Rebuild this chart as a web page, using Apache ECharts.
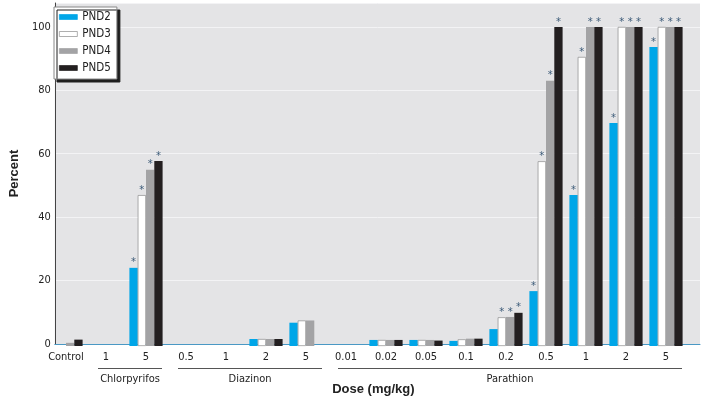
<!DOCTYPE html>
<html>
<head>
<meta charset="utf-8">
<script src="https://cdn.jsdelivr.net/npm/echarts@6/dist/echarts.min.js"></script>
<style>
  html, body { margin: 0; padding: 0; background: #fff; }
  #main { width: 704px; height: 401px; }
</style>
</head>
<body>
<div id="main"></div>
<script>
// dose labels along the x axis
var categories = ['Control', '1', '5', '0.5', '1', '2', '5', '0.01', '0.02', '0.05', '0.1', '0.2', '0.5', '1', '2', '5'];
var seriesNames = ['PND2', 'PND3', 'PND4', 'PND5'];
var pnd2 = [0, 0, 24.5, 0, 0, 2.2, 7.3, 0, 1.9, 1.9, 1.6, 5.3, 17.2, 47.3, 69.9, 93.7];
var pnd3 = [0, 0, 47.3, 0, 0, 2.2, 8.0, 0, 1.9, 1.9, 2.1, 9.0, 57.9, 90.6, 100, 100];
var pnd4 = [1.0, 0, 55.2, 0, 0, 2.2, 8.0, 0, 1.9, 1.9, 2.3, 9.1, 83.1, 100, 100, 100];
var pnd5 = [2.0, 0, 58.0, 0, 0, 2.2, 0, 0, 1.9, 1.7, 2.3, 10.4, 100, 100, 100, 100];
// category indexes that get an asterisk
var sig2 = [2, 12, 13, 14, 15];
var sig3 = [2, 11, 12, 13, 14, 15];
var sig4 = [2, 11, 12, 13, 14, 15];
var sig5 = [2, 11, 12, 13, 14, 15];
var yTicks = [0, 20, 40, 60, 80, 100];
// compound groups under the dose labels
var groups = [
  { name: 'Chlorpyrifos', from: 1, to: 2 },
  { name: 'Diazinon', from: 3, to: 6 },
  { name: 'Parathion', from: 7, to: 15 }
];

var narrow = "'Liberation Sans Narrow', 'DejaVu Sans Condensed', sans-serif";
var colors = ['#00a6e8', '#ffffff', '#a3a3a5', '#231f20'];
var yMax = 107.5;

function withStars(values, sig) {
  return values.map(function (v, i) {
    if (sig.indexOf(i) >= 0) {
      return { value: v, label: { show: true } };
    }
    if (v === 0) {
      // no outline on empty bars
      return { value: v, itemStyle: { borderWidth: 0 } };
    }
    return v;
  });
}

function barSeries(idx, values, sig) {
  return {
    name: seriesNames[idx],
    type: 'bar',
    xAxisIndex: 1,
    yAxisIndex: 1,
    barWidth: 8.3,
    barGap: '0%',
    data: withStars(values, sig),
    itemStyle: {
      color: colors[idx],
      borderColor: idx === 1 ? '#8c8c8c' : colors[idx],
      borderWidth: idx === 1 ? 0.7 : 0
    },
    label: {
      show: false,
      position: 'top',
      distance: 0,
      formatter: '*',
      color: '#3b5a78',
      fontSize: 10,
      fontFamily: 'DejaVu Sans'
    }
  };
}

var chartDom = document.getElementById('main');
var myChart = echarts.init(chartDom);

var option = {
  animation: false,
  backgroundColor: '#fff',
  grid: [
    // background grid, runs a bit past the last group
    { left: 46, right: 4, top: 3, bottom: 55, show: true, backgroundColor: '#e4e4e6', borderWidth: 0 },
    // bar grid
    { left: 46, right: 18, top: 3, bottom: 55 }
  ],
  legend: {
    orient: 'vertical',
    left: 54,
    top: 7,
    data: seriesNames,
    itemWidth: 18,
    itemHeight: 5,
    itemGap: 5,
    padding: [4, 6, 5, 5],
    backgroundColor: '#fff',
    borderColor: '#888',
    borderWidth: 1,
    shadowColor: '#1e1e1e',
    shadowBlur: 0,
    shadowOffsetX: 3,
    shadowOffsetY: 3,
    icon: 'rect',
    itemStyle: { borderWidth: 0.7 },
    textStyle: { fontFamily: narrow, fontSize: 11.5, color: '#222', padding: [0, 0, 0, 0] }
  },
  xAxis: [
    {
      type: 'value',
      gridIndex: 0,
      min: 0,
      max: 1,
      axisLine: { show: true, lineStyle: { color: '#4a98c4', width: 1 } },
      axisTick: { show: false },
      axisLabel: { show: false },
      splitLine: { show: false },
      name: 'Dose (mg/kg)',
      nameLocation: 'middle',
      nameGap: 39,
      nameTextStyle: { fontFamily: 'Liberation Sans, Arial, sans-serif', fontWeight: 'bold', fontSize: 13, color: '#222', padding: [0, 8, 0, 0] }
    },
    {
      type: 'category',
      gridIndex: 1,
      data: categories,
      axisLine: { show: false },
      axisTick: { show: false },
      axisLabel: { interval: 0, margin: 6, fontFamily: narrow, fontSize: 11, color: '#222' }
    }
  ],
  yAxis: [
    {
      type: 'value',
      gridIndex: 0,
      min: 0,
      max: yMax,
      interval: 20,
      axisLine: { show: true, lineStyle: { color: '#444', width: 1 } },
      axisTick: { show: false },
      axisLabel: {
        margin: 4,
        fontFamily: narrow,
        fontSize: 11,
        color: '#222',
        formatter: function (v) { return yTicks.indexOf(v) >= 0 ? String(v) : ''; }
      },
      splitLine: { show: true, lineStyle: { color: '#f3f3f5', width: 1 } },
      name: 'Percent',
      nameLocation: 'middle',
      nameGap: 28,
      nameTextStyle: { fontFamily: 'Liberation Sans, Arial, sans-serif', fontWeight: 'bold', fontSize: 13, color: '#222' }
    },
    {
      type: 'value',
      gridIndex: 1,
      min: 0,
      max: yMax,
      show: false,
      splitLine: { show: false }
    }
  ],
  series: [
    barSeries(0, pnd2, sig2),
    barSeries(1, pnd3, sig3),
    barSeries(2, pnd4, sig4),
    barSeries(3, pnd5, sig5)
  ]
};
option && myChart.setOption(option);

// group lines + names under the dose labels
var graphics = [];
groups.forEach(function (g) {
  var x1 = myChart.convertToPixel({ xAxisIndex: 1 }, g.from) - 8;
  var x2 = myChart.convertToPixel({ xAxisIndex: 1 }, g.to) + 16;
  graphics.push({
    type: 'line',
    shape: { x1: x1, y1: 368.5, x2: x2, y2: 368.5 },
    style: { stroke: '#555', lineWidth: 1 }
  });
  graphics.push({
    type: 'text',
    x: (x1 + x2) / 2,
    y: 379,
    style: { text: g.name, fill: '#222', font: '11px ' + narrow, textAlign: 'center', textVerticalAlign: 'middle' }
  });
});
myChart.setOption({ graphic: graphics });
</script>
</body>
</html>
